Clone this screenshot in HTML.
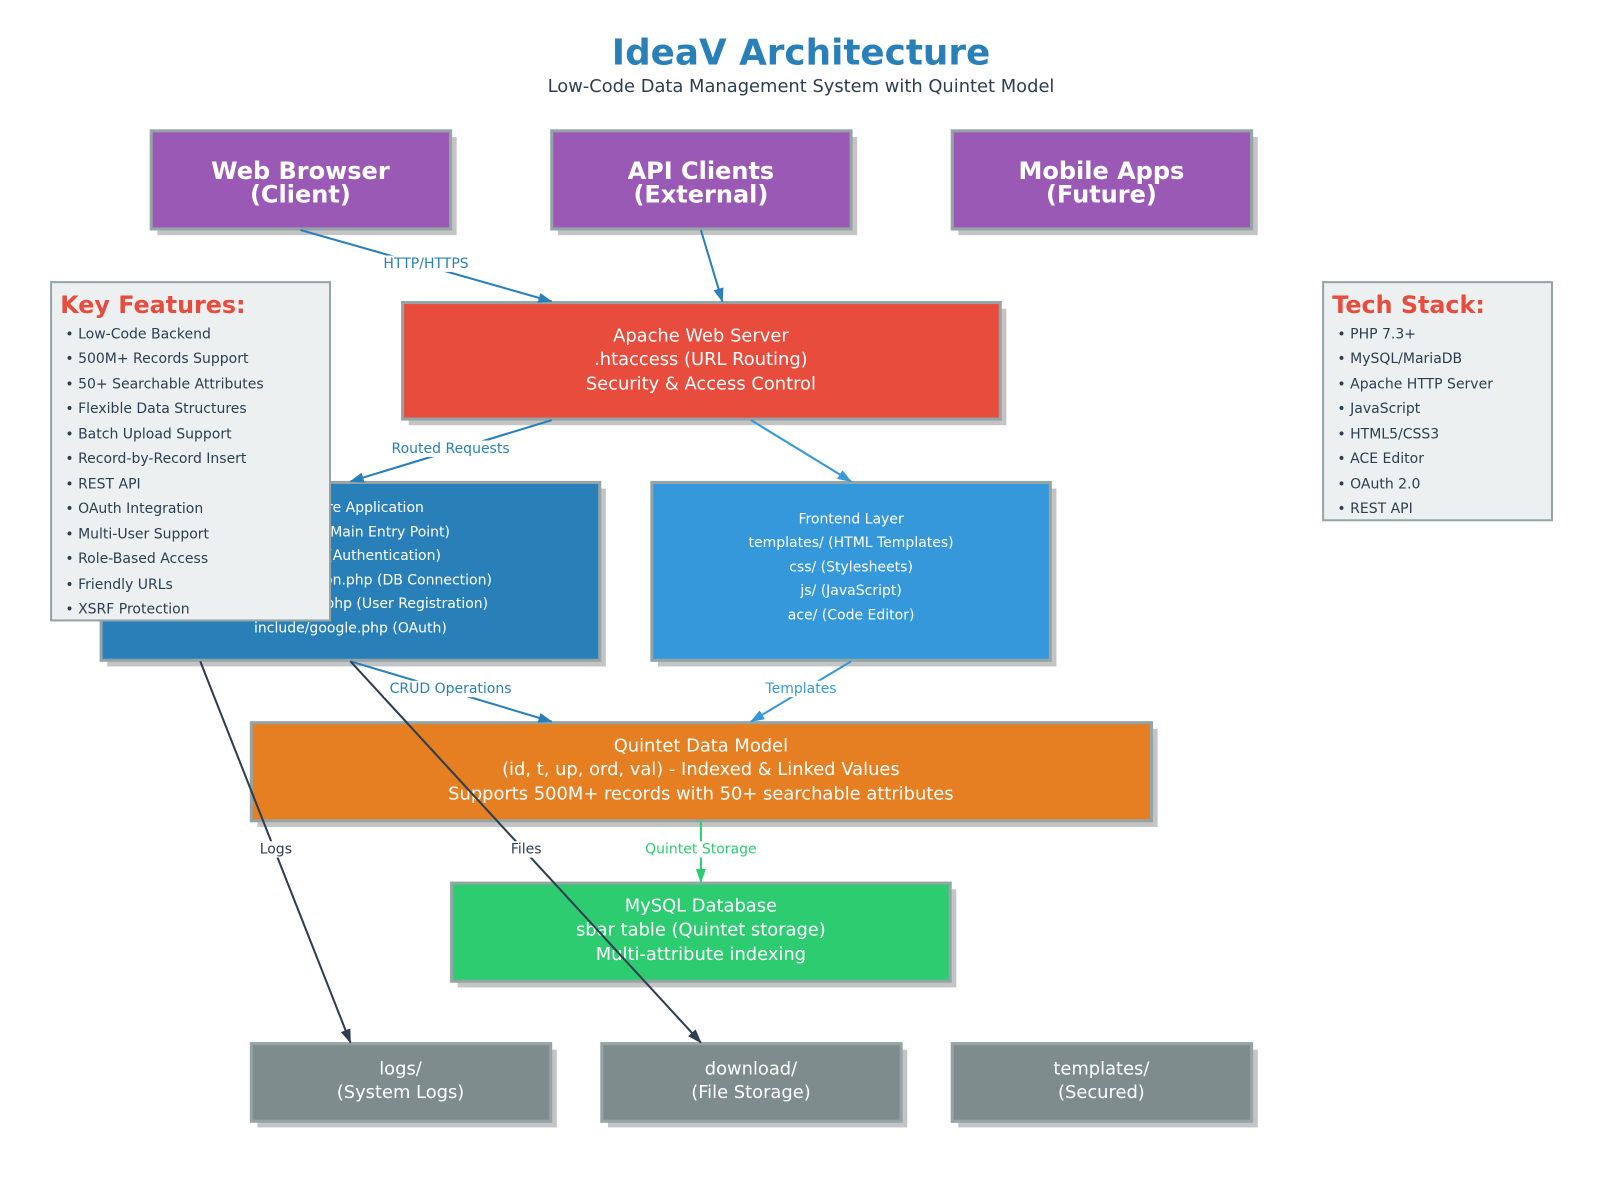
<!DOCTYPE html>
<html><head><meta charset="utf-8"><style>
html,body{margin:0;padding:0;background:#fff}
svg{display:block}
text{font-family:"DejaVu Sans","Liberation Sans",sans-serif}
</style></head><body>
<svg width="1600" height="1200" viewBox="0 0 1566 1174" preserveAspectRatio="none" xmlns="http://www.w3.org/2000/svg">
<defs>
<marker id="ab" markerWidth="14" markerHeight="10" refX="13" refY="5" orient="auto" markerUnits="userSpaceOnUse"><path d="M0,0 L14,5 L0,10 Z" fill="#2980b9"/></marker>
<marker id="al" markerWidth="14" markerHeight="10" refX="13" refY="5" orient="auto" markerUnits="userSpaceOnUse"><path d="M0,0 L14,5 L0,10 Z" fill="#3498db"/></marker>
<marker id="ag" markerWidth="14" markerHeight="10" refX="13" refY="5" orient="auto" markerUnits="userSpaceOnUse"><path d="M0,0 L14,5 L0,10 Z" fill="#2ecc71"/></marker>
<marker id="ad" markerWidth="14" markerHeight="10" refX="13" refY="5" orient="auto" markerUnits="userSpaceOnUse"><path d="M0,0 L14,5 L0,10 Z" fill="#2c3e50"/></marker>
</defs>
<text x="784" y="63" text-anchor="middle" font-size="35" font-weight="bold" fill="#2980b9">IdeaV Architecture</text>
<text x="784" y="90" text-anchor="middle" font-size="17.5" fill="#2c3e50">Low-Code Data Management System with Quintet Model</text>

<g fill="#c4c4c4">
<rect x="154" y="134" width="293" height="96"/><rect x="546" y="134" width="293" height="96"/><rect x="938" y="134" width="293" height="96"/>
<rect x="400" y="302" width="585" height="114"/>
<rect x="105" y="478" width="488" height="174"/><rect x="644" y="478" width="390" height="174"/>
<rect x="252" y="713" width="881" height="96"/><rect x="448" y="870" width="488" height="96"/>
<rect x="252" y="1027" width="293" height="76"/><rect x="595" y="1027" width="293" height="76"/><rect x="938" y="1027" width="293" height="76"/>
</g>
<g stroke="#95a5a6" stroke-width="3">
<rect x="148" y="128" width="293" height="96" fill="#9b59b6"/><rect x="540" y="128" width="293" height="96" fill="#9b59b6"/><rect x="932" y="128" width="293" height="96" fill="#9b59b6"/>
<rect x="394" y="296" width="585" height="114" fill="#e74c3c"/>
<rect x="99" y="472" width="488" height="174" fill="#2980b9"/><rect x="638" y="472" width="390" height="174" fill="#3498db"/>
<rect x="246" y="707" width="881" height="96" fill="#e67e22"/><rect x="442" y="864" width="488" height="96" fill="#2ecc71"/>
<rect x="246" y="1021" width="293" height="76" fill="#7f8c8d"/><rect x="589" y="1021" width="293" height="76" fill="#7f8c8d"/><rect x="932" y="1021" width="293" height="76" fill="#7f8c8d"/>
</g>
<g fill="#fff" font-weight="bold" font-size="23.5" text-anchor="middle">
<text x="294" y="175">Web Browser</text><text x="294" y="198">(Client)</text>
<text x="686" y="175">API Clients</text><text x="686" y="198">(External)</text>
<text x="1078" y="175">Mobile Apps</text><text x="1078" y="198">(Future)</text>
</g>
<g fill="#fff" font-size="17.5" text-anchor="middle">
<text x="686" y="334">Apache Web Server</text><text x="686" y="357">.htaccess (URL Routing)</text><text x="686" y="381">Security &amp; Access Control</text>
<text x="686" y="735">Quintet Data Model</text><text x="686" y="758">(id, t, up, ord, val) - Indexed &amp; Linked Values</text><text x="686" y="782">Supports 500M+ records with 50+ searchable attributes</text>
<text x="686" y="892">MySQL Database</text><text x="686" y="915">sbar table (Quintet storage)</text><text x="686" y="939">Multi-attribute indexing</text>
<text x="392" y="1051">logs/</text><text x="392" y="1074">(System Logs)</text>
<text x="735" y="1051">download/</text><text x="735" y="1074">(File Storage)</text>
<text x="1078" y="1051">templates/</text><text x="1078" y="1074">(Secured)</text>
</g>
<g fill="#fff" font-size="13.7" text-anchor="middle">
<text x="343" y="501">PHP Core Application</text><text x="343" y="525">index.php (Main Entry Point)</text><text x="343" y="548">auth.php (Authentication)</text><text x="343" y="572">include/connection.php (DB Connection)</text><text x="343" y="595">include/register.php (User Registration)</text><text x="343" y="619">include/google.php (OAuth)</text>
<text x="833" y="512">Frontend Layer</text><text x="833" y="535">templates/ (HTML Templates)</text><text x="833" y="559">css/ (Stylesheets)</text><text x="833" y="582">js/ (JavaScript)</text><text x="833" y="606">ace/ (Code Editor)</text>
</g>

<rect x="50" y="276" width="273" height="331" fill="#ecf0f1" stroke="#95a5a6" stroke-width="2"/>
<text x="59" y="306" font-size="23.3" font-weight="bold" fill="#e74c3c">Key Features:</text>
<g font-size="13.7" fill="#2c3e50">
<text x="64" y="331">• Low-Code Backend</text><text x="64" y="355">• 500M+ Records Support</text><text x="64" y="380">• 50+ Searchable Attributes</text><text x="64" y="404">• Flexible Data Structures</text><text x="64" y="429">• Batch Upload Support</text><text x="64" y="453">• Record-by-Record Insert</text><text x="64" y="478">• REST API</text><text x="64" y="502">• OAuth Integration</text><text x="64" y="527">• Multi-User Support</text><text x="64" y="551">• Role-Based Access</text><text x="64" y="576">• Friendly URLs</text><text x="64" y="600">• XSRF Protection</text>
</g>
<rect x="1295" y="276" width="224" height="233" fill="#ecf0f1" stroke="#95a5a6" stroke-width="2"/>
<text x="1304" y="306" font-size="23.3" font-weight="bold" fill="#e74c3c">Tech Stack:</text>
<g font-size="13.7" fill="#2c3e50">
<text x="1309" y="331">• PHP 7.3+</text><text x="1309" y="355">• MySQL/MariaDB</text><text x="1309" y="380">• Apache HTTP Server</text><text x="1309" y="404">• JavaScript</text><text x="1309" y="429">• HTML5/CSS3</text><text x="1309" y="453">• ACE Editor</text><text x="1309" y="478">• OAuth 2.0</text><text x="1309" y="502">• REST API</text>
</g>

<g stroke-width="2" fill="none">
<line x1="294" y1="225" x2="540" y2="295" stroke="#2980b9" marker-end="url(#ab)"/>
<line x1="686" y1="225" x2="707" y2="295" stroke="#2980b9" marker-end="url(#ab)"/>
<line x1="540" y1="411" x2="343" y2="471" stroke="#2980b9" marker-end="url(#ab)"/>
<line x1="735" y1="411" x2="833" y2="471" stroke="#3498db" marker-end="url(#al)"/>
<line x1="343" y1="647" x2="540" y2="706" stroke="#2980b9" marker-end="url(#ab)"/>
<line x1="833" y1="647" x2="735" y2="706" stroke="#3498db" marker-end="url(#al)"/>
<line x1="686" y1="803" x2="686" y2="863" stroke="#2ecc71" marker-end="url(#ag)"/>
<line x1="196" y1="647" x2="343" y2="1020" stroke="#2c3e50" marker-end="url(#ad)"/>
<line x1="343" y1="647" x2="686" y2="1020" stroke="#2c3e50" marker-end="url(#ad)"/>
</g>
<g fill="#fff">
<rect x="370" y="250" width="94" height="16"/><rect x="378" y="431" width="126" height="16"/>
<rect x="376" y="666" width="130" height="16"/><rect x="744" y="666" width="80" height="16"/>
<rect x="625" y="823" width="122" height="16"/><rect x="250" y="823" width="40" height="16"/><rect x="495" y="823" width="40" height="16"/>
</g>
<g font-size="13.7" text-anchor="middle">
<text x="417" y="262" fill="#2980b9">HTTP/HTTPS</text>
<text x="441" y="443" fill="#2980b9">Routed Requests</text>
<text x="441" y="678" fill="#2980b9">CRUD Operations</text>
<text x="784" y="678" fill="#3498db">Templates</text>
<text x="686" y="835" fill="#2ecc71">Quintet Storage</text>
<text x="270" y="835" fill="#2c3e50">Logs</text>
<text x="515" y="835" fill="#2c3e50">Files</text>
</g>
</svg>
</body></html>
